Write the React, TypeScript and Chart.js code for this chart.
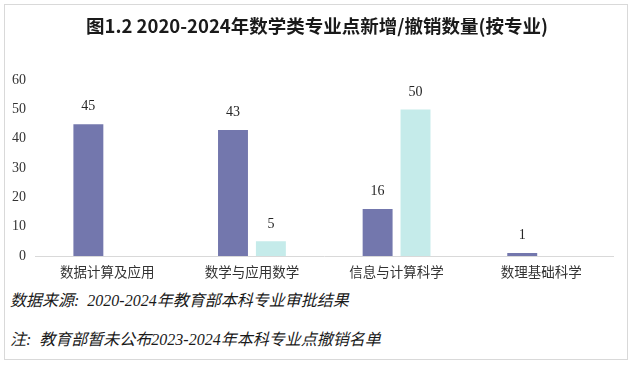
import React, { useEffect, useRef } from "react";
import { Chart, registerables } from "chart.js";

Chart.register(...registerables);

const titleText = "图1.2 2020-2024年数学类专业点新增/撤销数量(按专业)";
const categories = ["数据计算及应用", "数学与应用数学", "信息与计算科学", "数理基础科学"];
const addedLabel = "新增";
const addedValues: (number | null)[] = [45, 43, 16, 1];
const revokedLabel = "撤销";
const revokedValues: (number | null)[] = [null, 5, 50, null];
const yTicks = [0, 10, 20, 30, 40, 50, 60];
const footnotes = [
  "数据来源:  2020-2024年教育部本科专业审批结果",
  "注:  教育部暂未公布2023-2024年本科专业点撤销名单",
];

const PURPLE = "#7377ad";
const CYAN = "#c5ebea";

const valueLabels = {
  id: "valueLabels",
  afterDatasetsDraw(chart: any) {
    const ctx = chart.ctx;
    ctx.save();
    ctx.font = '14px "Liberation Serif", serif';
    ctx.fillStyle = "#262626";
    ctx.textAlign = "center";
    ctx.textBaseline = "middle";
    chart.data.datasets.forEach((ds: any, di: number) => {
      const meta = chart.getDatasetMeta(di);
      meta.data.forEach((bar: any, i: number) => {
        const v = ds.data[i];
        if (v === null || v === undefined) return;
        ctx.fillText(String(v), bar.x, bar.y - 17.5);
      });
    });
    ctx.restore();
  },
};

export default function App() {
  const ref = useRef<HTMLCanvasElement | null>(null);
  useEffect(() => {
    if (!ref.current) return;
    const chart = new Chart(ref.current, {
      type: "bar",
      data: {
        labels: categories,
        datasets: [
          { label: addedLabel, data: addedValues, backgroundColor: PURPLE },
          { label: revokedLabel, data: revokedValues, backgroundColor: CYAN },
        ],
      },
      options: {
        animation: false,
        responsive: false,
        maintainAspectRatio: false,
        devicePixelRatio: 1,
        categoryPercentage: 0.524,
        barPercentage: 0.79,
        layout: { padding: { left: 0, right: 0, top: 0, bottom: 0 } },
        plugins: {
          legend: { display: false },
          tooltip: { enabled: false },
          title: {
            display: true,
            text: titleText,
            color: "#1a1a1a",
            font: { family: '"Noto Sans CJK SC", sans-serif', size: 18.5, weight: "bold" },
            padding: { top: 15, bottom: 43 },
          },
        },
        scales: {
          x: {
            grid: { display: false, drawTicks: false },
            border: { display: true, color: "#d9d9d9", width: 1 },
            ticks: {
              color: "#333333",
              padding: 8,
              font: { family: '"Noto Sans CJK SC", sans-serif', size: 13.5 },
              maxRotation: 0,
              autoSkip: false,
            },
            afterFit(scale: any) {
              scale.height = 34;
            },
          },
          y: {
            min: 0,
            max: 60,
            afterBuildTicks(scale: any) {
              scale.ticks = yTicks.map((v) => ({ value: v }));
            },
            grid: { display: false, drawTicks: false },
            border: { display: false },
            ticks: {
              color: "#333333",
              padding: 9,
              font: { family: '"Liberation Serif", serif', size: 14 },
            },
            afterFit(scale: any) {
              scale.width = 35;
            },
          },
          yRight: {
            position: "right",
            display: true,
            grid: { display: false, drawTicks: false },
            border: { display: false },
            ticks: { display: false },
            afterFit(scale: any) {
              scale.width = 20.5;
            },
          },
        },
      },
      plugins: [valueLabels],
    });
    return () => chart.destroy();
  }, []);

  return (
    <div style={{ position: "fixed", left: 0, top: 0, width: 634, height: 371, background: "#fff", overflow: "hidden" }}>
      <div
        style={{
          position: "absolute",
          left: 4,
          top: 4,
          width: 622,
          height: 354,
          border: "1px solid #d9d9d9",
        }}
      />
      <canvas ref={ref} width={634} height={290} style={{ position: "absolute", left: 0, top: 0, width: 634, height: 290 }} />
      {footnotes.map((t, i) => (
        <div
          key={i}
          style={{
            position: "absolute",
            left: 10,
            top: i === 0 ? 290 : 329,
            fontFamily: '"Liberation Serif", "Noto Sans CJK SC", serif',
            fontStyle: "italic",
            fontSize: 16,
            lineHeight: "22px",
            color: "#1a1a1a",
            whiteSpace: "pre",
          }}
        >
          {t}
        </div>
      ))}
    </div>
  );
}
